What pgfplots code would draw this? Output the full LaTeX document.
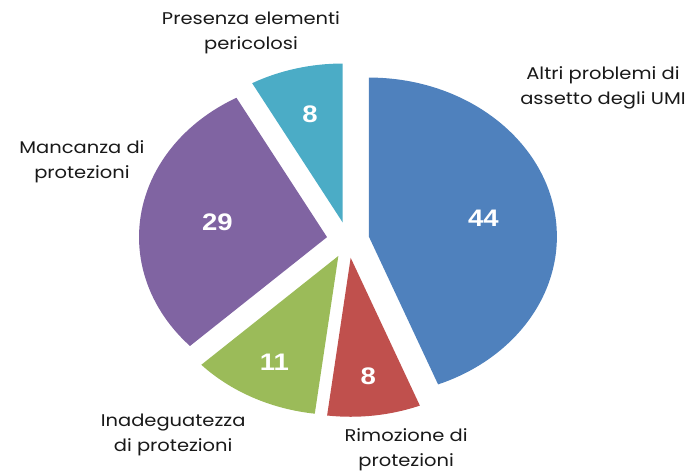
\documentclass[border=0pt]{standalone}
\usepackage{pgfplots}
\pgfplotsset{compat=1.18}
\usepackage{pgfplotstable}
\usepackage{fontspec}
\setmainfont{Poppins}[FakeStretch=1.15]
\newfontfamily\numfont{Liberation Sans}[FakeStretch=1.15]
\definecolor{slice0}{HTML}{4F81BD}
\definecolor{slice1}{HTML}{C0504D}
\definecolor{slice2}{HTML}{9BBB59}
\definecolor{slice3}{HTML}{8064A2}
\definecolor{slice4}{HTML}{4BACC6}
\pgfplotstableread{
value labr
44 0.62
8 0.75
11 0.75
29 0.59
8 0.70
}\piedata
\begin{document}
\begin{tikzpicture}
% cumulative angles (clockwise from 90 deg)
\def\cum{0}
\pgfplotsforeachungrouped \i in {0,...,4}{%
  \pgfplotstablegetelem{\i}{value}\of\piedata
  \let\v\pgfplotsretval
  \pgfplotstablegetelem{\i}{labr}\of\piedata
  \let\lr\pgfplotsretval
  \pgfmathsetmacro\s{90-3.6*\cum}%
  \pgfmathsetmacro\e{90-3.6*(\cum+\v)}%
  \pgfmathsetmacro\m{(\s+\e)/2}%
  \expandafter\xdef\csname ps\i\endcsname{\s}%
  \expandafter\xdef\csname pe\i\endcsname{\e}%
  \expandafter\xdef\csname pm\i\endcsname{\m}%
  \expandafter\xdef\csname pv\i\endcsname{\v}%
  \expandafter\xdef\csname pl\i\endcsname{\lr}%
  \pgfmathsetmacro\cum{\cum+\v}%
  \xdef\cum{\cum}%
}
\begin{axis}[
  x=188bp, y=159bp,
  xmin=-1.851, xmax=1.835, ymin=-1.459, ymax=1.509,
  hide axis, clip=false, scale only axis,
]
\addplot[draw=none] coordinates {(0,0)};
\def\ex{0.113}
\pgfplotsinvokeforeach{0,...,4}{
  \fill[slice#1]
    (axis cs:{\ex*cos(\csname pm#1\endcsname)},{\ex*sin(\csname pm#1\endcsname)})
    -- (axis cs:{\ex*cos(\csname pm#1\endcsname)+cos(\csname ps#1\endcsname)},{\ex*sin(\csname pm#1\endcsname)+sin(\csname ps#1\endcsname)})
    arc[start angle=\csname ps#1\endcsname, end angle=\csname pe#1\endcsname, x radius=188bp, y radius=159bp]
    -- cycle;
  \node[text=white, font=\numfont\bfseries\fontsize{24}{26}\selectfont]
    at (axis cs:{(\ex+\csname pl#1\endcsname)*cos(\csname pm#1\endcsname)},{(\ex+\csname pl#1\endcsname)*sin(\csname pm#1\endcsname)})
    {\csname pv#1\endcsname};
}
\begin{scope}[every node/.style={align=center, font=\fontsize{17}{25}\selectfont, text=black!90}]
\node at (axis cs:1.356,0.956) {Altri problemi di\\assetto degli UMI};
\node at (axis cs:0.309,-1.32) {Rimozione di\\protezioni};
\node at (axis cs:-0.93,-1.226) {Inadeguatezza\\di protezioni};
\node at (axis cs:-1.415,0.49) {Mancanza di\\protezioni};
\node at (axis cs:-0.516,1.302) {Presenza elementi\\pericolosi};
\end{scope}
\coordinate (bbl) at (rel axis cs:0,0);
\coordinate (btr) at (rel axis cs:1,1);
\end{axis}
\pgfresetboundingbox
\useasboundingbox (bbl) rectangle (btr);
\end{tikzpicture}
\end{document}
